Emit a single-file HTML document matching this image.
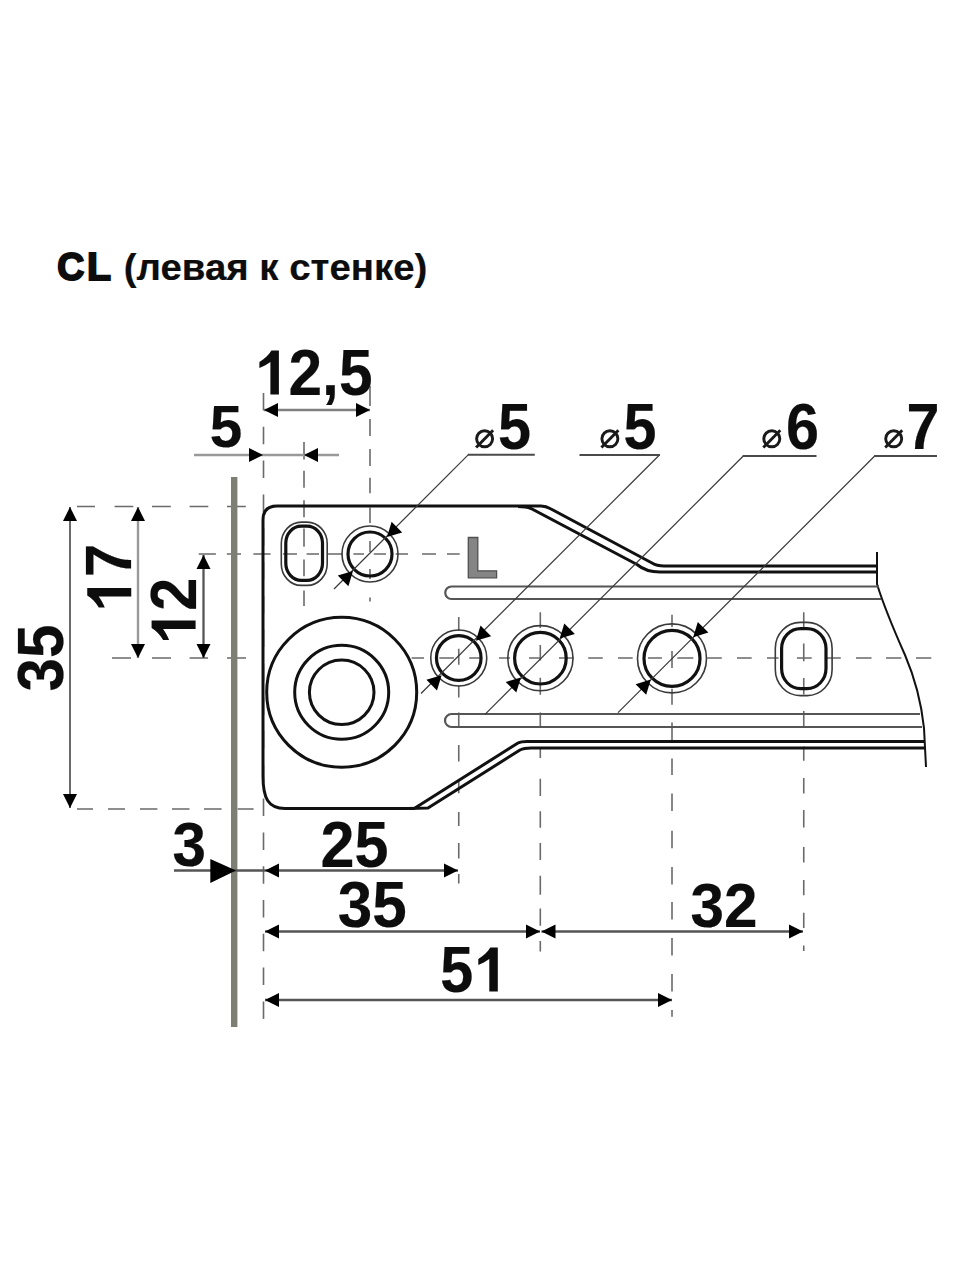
<!DOCTYPE html>
<html><head><meta charset="utf-8">
<style>
html,body{margin:0;padding:0;background:#fff;}
svg{display:block;}
text{font-family:"Liberation Sans",sans-serif;font-weight:bold;fill:#0d0d0d;}
</style></head>
<body>
<svg width="960" height="1280" viewBox="0 0 960 1280">
<defs>
</defs>
<rect width="960" height="1280" fill="#fff"/>

<text x="57.2" y="280.3" font-size="38.5" textLength="27" lengthAdjust="spacingAndGlyphs" stroke="#0d0d0d" stroke-width="2">C</text><text x="87" y="280.3" font-size="38.5" textLength="24" lengthAdjust="spacingAndGlyphs" stroke="#0d0d0d" stroke-width="2">L</text>
<text x="123.8" y="280" font-size="37" textLength="303.5" lengthAdjust="spacingAndGlyphs" stroke="#0d0d0d" stroke-width="0.2">(левая к стенке)</text>
<line x1="263.5" y1="393" x2="263.5" y2="1019" stroke="#6a6a6a" stroke-width="1.6" stroke-dasharray="17.5 16.3" stroke-dashoffset="0"/>
<path d="M304,442V459.5M304,470.8V487.7M304,500.3V517.2M304,528.5V546.8M304,559.4V576.3M304,590.4V605.9M370,386V406M370,419V436M370,449V466M370,477.8V493.3M370,507.4V522.9M370,541V552M370,569V579M370,597.4V601.6M458.75,616.9V631M458.75,648.75V664.7M458.75,685.3V697.5M458.75,712.5V728M458.75,745V761.5M458.75,779.5V793.3M458.75,812V826M458.75,843V858.6M458.75,874V883.5M540.3,612.2V628M540.3,645V660.6M540.3,677.8V694.7M540.3,712.5V727M540.3,747V758M540.3,778.7V795.9M540.3,811.3V827.7M540.3,843V860M540.3,875.8V894.7M540.3,908.5V925.7M540.3,941V951.4M672,614.7V626.9M672,651V668M672,688.75V704.7M672,722.5V740M672,758.6V775M672,793.6V811M672,830.8V848.3M672,866.9V884.4M672,901.9V919.4M672,938V955.4M672,974V991.5M672,1010V1016.7M803.75,612.3V628M803.75,643.5V661.25M803.75,678V694.6M803.75,711V728M803.75,746.6V760.8M803.75,778V793.6M803.75,810V827.5M803.75,847V862.5M803.75,880V895.3M803.75,912.8V928M803.75,945.6V951M198.75,554H215.9M226.9,554H241M253.4,554H270.6M283,554H297M306.6,554H319M326.9,554H342.5M353.4,554H364M373.75,554H386M395.6,554H408M422,554H436M447,554H459.7M77,506.5H95M114.6,506.5H133.3M152,506.5H170.8M189.6,506.5H208.3M227,506.5H245.8M77,809H93M108,809H125M140,809H157.4M172,809H189.5M204,809H221.6M237.6,809H253.6M112,658H131M152,658H171M189.6,658H208M227,658H246M411.6,658H424M439.3,658H453.9M469.2,658H481.6M499,658H510M529,658H540.8M559,658H573.6M588.2,658H602.8M618,658H632.7M648,658H661.9M677.3,658H693.3M707.2,658H721.8M737,658H751.7M767,658H778.6M796.9,658H811.7M826.25,658H840.8M856,658H871.5M886,658H901.4M916,658H931.25" stroke="#6a6a6a" stroke-width="1.6" fill="none"/>
<line x1="234.2" y1="477" x2="234.2" y2="1027" stroke="#7d7e74" stroke-width="6.4"/>
<g fill="none" stroke="#111" stroke-width="3" stroke-linejoin="round">
  <path d="M263,776 L263,520 Q263,506 277,506 L533,506"/>
  <path d="M533,506 L541,506 Q546,506 551,509 L652,563 Q657,566 664,566 L877,566"/>
  <path d="M518,506.5 Q526,506.5 531,508.5 L637,564.5 Q646,572 660,572 L877,572"/>
  <path d="M263,776 C263,798 268,808.5 285,808.5 L415,808.5"/>
  <path d="M415,808 L518,743 Q521,741.5 527,741.5 L925,741.5"/>
  <path d="M408,808.5 L428,808 L520,750 Q524,748 531,748 L925,748"/>
  <path d="M877,552 L877,584 Q885,610 905,655 Q920,690 924,728 L926,767" stroke-width="2"/>
</g>
<g fill="none" stroke="#555" stroke-width="2.2">
  <path d="M879,586.5 L451.5,586.5 A6.25,6.25 0 0 0 451.5,599 L881,599"/>
  <path d="M920,714 L451.5,714 A6.5,6.5 0 0 0 451.5,727 L922,727"/>
</g>
<g fill="none" stroke="#111" stroke-width="3">
  <circle cx="341.7" cy="692.3" r="75"/>
  <circle cx="341.7" cy="692.3" r="47"/>
  <circle cx="341.7" cy="692.3" r="32.3"/>
</g>
<g fill="none">
  <rect x="285.8" y="526.1" width="36.7" height="54.2" rx="15.5" ry="17" stroke="#111" stroke-width="3.2"/>
  <rect x="281.3" y="522.1" width="45.9" height="63.3" rx="20" ry="21.5" stroke="#3a3a3a" stroke-width="1.6"/>
  <rect x="781.6" y="628.6" width="44.4" height="60" rx="19" ry="20" stroke="#111" stroke-width="3.2"/>
  <rect x="775.3" y="622.4" width="56.8" height="73.2" rx="25" ry="26" stroke="#3a3a3a" stroke-width="1.6"/>
  <circle cx="370" cy="554" r="22" stroke="#111" stroke-width="3.2"/>
  <circle cx="370" cy="554" r="28" stroke="#3a3a3a" stroke-width="1.6"/>
  <circle cx="458.75" cy="658" r="22.3" stroke="#111" stroke-width="3.2"/>
  <circle cx="458.75" cy="658" r="28" stroke="#3a3a3a" stroke-width="1.6"/>
  <circle cx="540.4" cy="658.2" r="25.8" stroke="#111" stroke-width="3.2"/>
  <circle cx="540.4" cy="658.2" r="32.6" stroke="#3a3a3a" stroke-width="1.6"/>
  <circle cx="672" cy="658.4" r="28" stroke="#111" stroke-width="3.2"/>
  <circle cx="672" cy="658.4" r="34.5" stroke="#3a3a3a" stroke-width="1.6"/>
</g>
<path d="M468.3,537.5 L477.8,537.5 L477.8,570.8 L496.6,570.8 L496.6,577.8 L468.3,577.8 z" fill="#858585" stroke="#505050" stroke-width="1.3"/>

<g stroke="#3a3a3a" stroke-width="1.2" fill="none">
  <path d="M468.4,454.7 L334,589"/>
  <path d="M659.4,455 L421,693.5"/>
  <path d="M743.3,456 L485,714.3"/>
  <path d="M874.7,456 L618,712.7"/>
</g>
<g stroke="#4a4a4a" stroke-width="1.9" fill="none">
  <path d="M534.8,454.7 H467.8"/>
  <path d="M579.5,455 H660"/>
  <path d="M816.5,456 H742.7"/>
  <path d="M937,456 H874.1"/>
</g>
<line x1="264" y1="410" x2="370" y2="410" stroke="#808080" stroke-width="2.5"/>
<path d="M264.0,410.0 L278.0,417.0 L278.0,403.0 z" fill="#000"/>
<path d="M370.0,410.0 L356.0,403.0 L356.0,417.0 z" fill="#000"/>
<line x1="194" y1="455" x2="339" y2="455" stroke="#999" stroke-width="2.6"/>
<path d="M263.0,455.0 L249.0,448.0 L249.0,462.0 z" fill="#000"/>
<path d="M304.0,455.0 L318.0,462.0 L318.0,448.0 z" fill="#000"/>
<line x1="70" y1="507" x2="70" y2="808" stroke="#444" stroke-width="1.6"/>
<path d="M70.0,507.0 L63.0,521.0 L77.0,521.0 z" fill="#000"/>
<path d="M70.0,808.0 L77.0,794.0 L63.0,794.0 z" fill="#000"/>
<line x1="138" y1="507" x2="138" y2="658" stroke="#999" stroke-width="2.4"/>
<path d="M138.0,507.0 L131.0,521.0 L145.0,521.0 z" fill="#000"/>
<path d="M138.0,658.0 L145.0,644.0 L131.0,644.0 z" fill="#000"/>
<line x1="203.5" y1="555" x2="203.5" y2="658" stroke="#555" stroke-width="2.3"/>
<path d="M203.5,555.0 L196.5,569.0 L210.5,569.0 z" fill="#000"/>
<path d="M203.5,658.0 L210.5,644.0 L196.5,644.0 z" fill="#000"/>
<line x1="174" y1="870.5" x2="458" y2="870.5" stroke="#555" stroke-width="2.3"/>
<path d="M265.0,870.5 L279.0,877.5 L279.0,863.5 z" fill="#000"/>
<path d="M458.0,870.5 L444.0,863.5 L444.0,877.5 z" fill="#000"/>
<path d="M210.3,858.9 L236,870.5 L210.3,882.9 z" fill="#000"/>
<line x1="265" y1="931.5" x2="540" y2="931.5" stroke="#555" stroke-width="2.3"/>
<path d="M265.0,931.5 L279.0,938.5 L279.0,924.5 z" fill="#000"/>
<path d="M540.0,931.5 L526.0,924.5 L526.0,938.5 z" fill="#000"/>
<line x1="541.5" y1="931.5" x2="803" y2="931.5" stroke="#555" stroke-width="2.3"/>
<path d="M541.5,931.5 L555.5,938.5 L555.5,924.5 z" fill="#000"/>
<path d="M803.0,931.5 L789.0,924.5 L789.0,938.5 z" fill="#000"/>
<line x1="265" y1="1000" x2="672" y2="1000" stroke="#555" stroke-width="2.3"/>
<path d="M265.0,1000.0 L279.0,1007.0 L279.0,993.0 z" fill="#000"/>
<path d="M672.0,1000.0 L658.0,993.0 L658.0,1007.0 z" fill="#000"/>
<path d="M387.0,537.0 L402.2,532.4 L391.6,521.8 z" fill="#000"/>
<path d="M353.0,571.0 L337.8,575.6 L348.4,586.2 z" fill="#000"/>
<path d="M475.9,640.8 L491.1,636.2 L480.5,625.6 z" fill="#000"/>
<path d="M441.6,675.2 L426.4,679.8 L437.0,690.4 z" fill="#000"/>
<path d="M559.7,638.6 L574.9,634.0 L564.3,623.4 z" fill="#000"/>
<path d="M520.9,677.4 L505.7,682.0 L516.3,692.6 z" fill="#000"/>
<path d="M693.2,637.2 L708.4,632.6 L697.8,622.0 z" fill="#000"/>
<path d="M650.8,679.6 L635.6,684.2 L646.2,694.8 z" fill="#000"/>
<path d="M0,-32.5 C5,-35.5 9.5,-39.5 12,-44 L19.5,-44 L19.5,0 L11,0 L11,-32.5 C7.5,-30 3.5,-27.8 0,-26.5 Z" transform="translate(259.4,394.5)" fill="#0d0d0d"/>
<text x="288.5" y="394.5" font-size="64.5" textLength="84" lengthAdjust="spacingAndGlyphs" stroke="#0d0d0d" stroke-width="0.2">2,5</text>
<text x="209.8" y="446.8" font-size="60" textLength="32.5" lengthAdjust="spacingAndGlyphs" stroke="#0d0d0d" stroke-width="0.2">5</text>
<text x="498" y="448.5" font-size="64.5" textLength="33" lengthAdjust="spacingAndGlyphs" stroke="#0d0d0d" stroke-width="0.2">5</text>
<text x="623.5" y="448.5" font-size="64.5" textLength="33" lengthAdjust="spacingAndGlyphs" stroke="#0d0d0d" stroke-width="0.2">5</text>
<text x="786" y="448.5" font-size="64.5" textLength="33" lengthAdjust="spacingAndGlyphs" stroke="#0d0d0d" stroke-width="0.2">6</text>
<text x="906.6" y="448.5" font-size="64.5" textLength="33" lengthAdjust="spacingAndGlyphs" stroke="#0d0d0d" stroke-width="0.2">7</text>
<text x="172.5" y="866" font-size="63" textLength="33.5" lengthAdjust="spacingAndGlyphs" stroke="#0d0d0d" stroke-width="0.2">3</text>
<text x="320.5" y="866.5" font-size="64" textLength="68" lengthAdjust="spacingAndGlyphs" stroke="#0d0d0d" stroke-width="0.2">25</text>
<text x="337.8" y="926.5" font-size="64.5" textLength="69" lengthAdjust="spacingAndGlyphs" stroke="#0d0d0d" stroke-width="0.2">35</text>
<text x="690.5" y="927" font-size="62.5" textLength="67" lengthAdjust="spacingAndGlyphs" stroke="#0d0d0d" stroke-width="0.2">32</text>
<text x="440.2" y="991.5" font-size="64.5" textLength="33" lengthAdjust="spacingAndGlyphs" stroke="#0d0d0d" stroke-width="0.2">5</text>
<path d="M0,-32.5 C5,-35.5 9.5,-39.5 12,-44 L19.5,-44 L19.5,0 L11,0 L11,-32.5 C7.5,-30 3.5,-27.8 0,-26.5 Z" transform="translate(478.3,991.5)" fill="#0d0d0d"/>
<text transform="translate(62.7,691.5) rotate(-90)" font-size="64.5" textLength="67" lengthAdjust="spacingAndGlyphs" stroke="#0d0d0d" stroke-width="0.2">35</text>
<path d="M0,-32.5 C5,-35.5 9.5,-39.5 12,-44 L19.5,-44 L19.5,0 L11,0 L11,-32.5 C7.5,-30 3.5,-27.8 0,-26.5 Z" transform="translate(131.25,607.5) rotate(-90)" fill="#0d0d0d"/>
<text transform="translate(131.25,577) rotate(-90)" font-size="64.5" textLength="33" lengthAdjust="spacingAndGlyphs" stroke="#0d0d0d" stroke-width="0.2">7</text>
<path d="M0,-32.5 C5,-35.5 9.5,-39.5 12,-44 L19.5,-44 L19.5,0 L11,0 L11,-32.5 C7.5,-30 3.5,-27.8 0,-26.5 Z" transform="translate(195.6,640) rotate(-90)" fill="#0d0d0d"/>
<text transform="translate(195.6,610.75) rotate(-90)" font-size="64.5" textLength="33" lengthAdjust="spacingAndGlyphs" stroke="#0d0d0d" stroke-width="0.2">2</text>
<g fill="none" stroke="#1a1a1a" stroke-width="2.9">
<circle cx="484.6" cy="438.8" r="8"/><line x1="476.1" y1="447.5" x2="493.1" y2="430.2"/>
<circle cx="609.9" cy="438.8" r="8"/><line x1="601.4" y1="447.5" x2="618.4" y2="430.2"/>
<circle cx="771.8" cy="438.8" r="8"/><line x1="763.3" y1="447.5" x2="780.3" y2="430.2"/>
<circle cx="893.7" cy="438.8" r="8"/><line x1="885.2" y1="447.5" x2="902.2" y2="430.2"/>
</g>
</svg>
</body></html>
